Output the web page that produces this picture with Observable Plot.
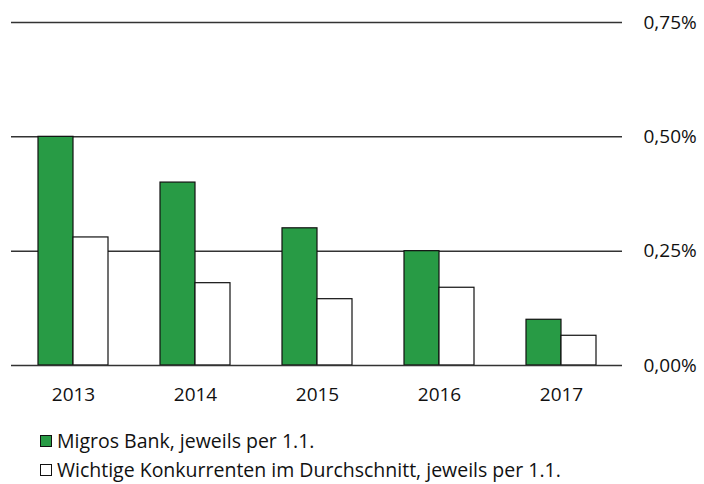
<!DOCTYPE html>
<html>
<head>
<meta charset="utf-8">
<script src="https://cdn.jsdelivr.net/npm/d3@7"></script>
<script src="https://cdn.jsdelivr.net/npm/@observablehq/plot@0.6"></script>
<style>
  html, body { margin: 0; padding: 0; background: #fff; }
  body { width: 704px; height: 484px; overflow: hidden; font-family: "Open Sans", sans-serif; position: relative; }
  .legend { position: absolute; left: 40px; font-size: 19.5px; color: #111; }
  .legend div { display: flex; align-items: center; height: 29px; line-height: 1.1; white-space: nowrap; }
  .sw { box-sizing: border-box; width: 12px; height: 12px; border: 1px solid #111; margin-right: 5px; }
</style>
</head>
<body>
<div id="chart"></div>
<div class="legend" style="top:426px">
  <div><span class="sw" style="background:#289b45"></span><span id="l1"></span></div>
  <div><span class="sw" style="background:#fff"></span><span id="l2"></span></div>
</div>
<script>
const years = ["2013", "2014", "2015", "2016", "2017"];
const migros = [0.50, 0.40, 0.30, 0.25, 0.10];
const konkurrenz = [0.28, 0.18, 0.145, 0.17, 0.065];
const yTicks = [0, 0.25, 0.50, 0.75];
const seriesNames = ["Migros Bank, jeweils per 1.1.", "Wichtige Konkurrenten im Durchschnitt, jeweils per 1.1."];
const green = "#289b45";

document.getElementById("l1").textContent = seriesNames[0];
document.getElementById("l2").textContent = seriesNames[1];

const dataM = years.map((y, i) => ({year: y, value: migros[i]}));
const dataK = years.map((y, i) => ({year: y, value: konkurrenz[i]}));
const fmt = d => d.toFixed(2).replace(".", ",") + "%";

const chart = Plot.plot({
  width: 704,
  height: 420,
  marginLeft: 11,
  marginRight: 82,
  marginTop: 22,
  marginBottom: 55,
  style: {fontFamily: "Open Sans, sans-serif", fontSize: "19px", color: "#111", background: "#fff"},
  x: {type: "band", domain: years, paddingInner: 0.427, paddingOuter: 0.215, label: null},
  y: {domain: [0, 0.75], label: null},
  marks: [
    Plot.ruleY(yTicks.slice(1), {stroke: "#333", strokeWidth: 1.5}),
    Plot.barY(dataM, {x: "year", y: "value", fill: green, stroke: "#111", strokeWidth: 1.2, insetRight: 35}),
    Plot.barY(dataK, {x: "year", y: "value", fill: "#fff", stroke: "#111", strokeWidth: 1.2, insetLeft: 35}),
    Plot.ruleY([0], {stroke: "#333", strokeWidth: 1.5}),
    Plot.axisX({tickSize: 0, tickPadding: 22, fontSize: 19}),
    Plot.axisY({anchor: "right", ticks: yTicks, tickSize: 0, tickPadding: 21, tickFormat: fmt, textAnchor: "start", fontSize: 19})
  ]
});
document.getElementById("chart").appendChild(chart);
</script>
</body>
</html>
